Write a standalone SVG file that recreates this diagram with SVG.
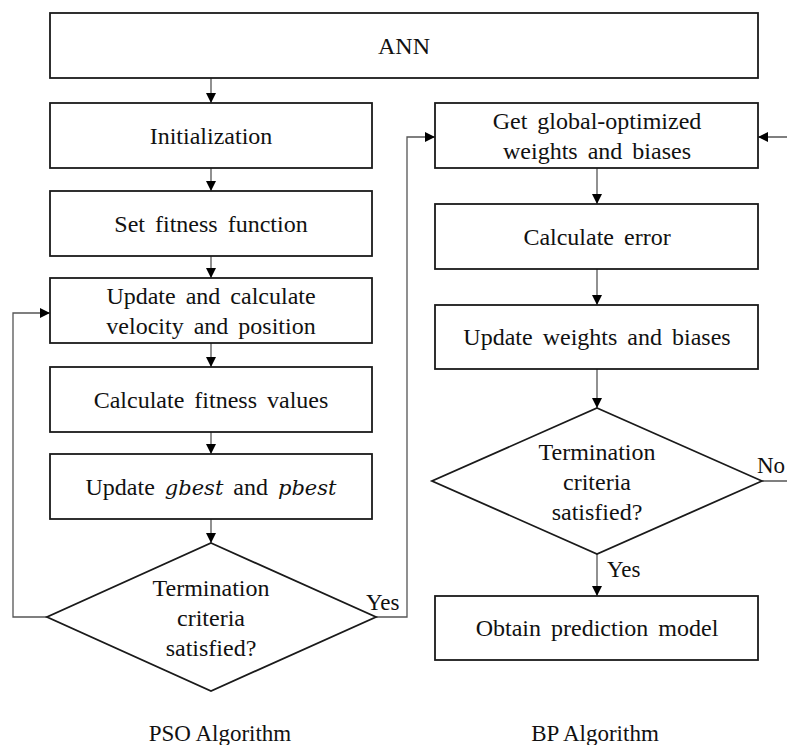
<svg xmlns="http://www.w3.org/2000/svg" width="787" height="745" viewBox="0 0 787 745" font-family="'Liberation Serif', serif">
<defs>
<marker id="ah" viewBox="0 0 10 10" refX="10" refY="5" markerWidth="10" markerHeight="10" markerUnits="userSpaceOnUse" orient="auto">
<path d="M0,0 L10,5 L0,10 Z" fill="#000"/>
</marker>
</defs>
<style>
.box{fill:#fff;stroke:#1a1a1a;stroke-width:1.8}
.t{font-family:'Liberation Serif',serif;font-size:24px;fill:#111;text-anchor:middle;word-spacing:4px}
.i{font-style:italic;font-family:'DejaVu Serif','Liberation Serif',serif;font-size:21px}
.c{fill:none;stroke:#555;stroke-width:1.3}
.lbl{font-family:'Liberation Serif',serif;font-size:23px;fill:#111}
</style>
<rect width="787" height="745" fill="#fff"/>
<g id="connectors">
<path class="c" d="M211,78 V103" marker-end="url(#ah)"/>
<path class="c" d="M211,168 V191" marker-end="url(#ah)"/>
<path class="c" d="M211,256 V278" marker-end="url(#ah)"/>
<path class="c" d="M211,343 V367" marker-end="url(#ah)"/>
<path class="c" d="M211,432 V454" marker-end="url(#ah)"/>
<path class="c" d="M211,519 V543" marker-end="url(#ah)"/>
<path class="c" d="M47,617 H13 V313 H50" marker-end="url(#ah)"/>
<path class="c" d="M376,617 H407 V137 H435" marker-end="url(#ah)"/>
<path class="c" d="M597,168 V204" marker-end="url(#ah)"/>
<path class="c" d="M597,269 V305" marker-end="url(#ah)"/>
<path class="c" d="M597,369 V408" marker-end="url(#ah)"/>
<path class="c" d="M597,554 V596" marker-end="url(#ah)"/>
<path class="c" d="M762,481 H800 V137 H758" marker-end="url(#ah)"/>
<text class="lbl" x="366" y="610">Yes</text>
<text class="lbl" x="607" y="577">Yes</text>
<text class="lbl" x="757" y="473">No</text>
</g>
<g id="ann">
<rect class="box" x="50" y="13" width="708" height="65"/>
<text class="t" x="404" y="54">ANN</text>
</g>
<g id="init">
<rect class="box" x="50" y="103" width="322" height="65"/>
<text class="t" x="211" y="144">Initialization</text>
</g>
<g id="fitness-fn">
<rect class="box" x="50" y="191" width="322" height="65"/>
<text class="t" x="211" y="232">Set fitness function</text>
</g>
<g id="update-vel">
<rect class="box" x="50" y="278" width="322" height="65"/>
<text class="t" x="211" y="304">Update and calculate</text>
<text class="t" x="211" y="334">velocity and position</text>
</g>
<g id="calc-fit">
<rect class="box" x="50" y="367" width="322" height="65"/>
<text class="t" x="211" y="408">Calculate fitness values</text>
</g>
<g id="update-best">
<rect class="box" x="50" y="454" width="322" height="65"/>
<text class="t" x="211" y="495">Update <tspan class="i">gbest</tspan> and <tspan class="i">pbest</tspan></text>
</g>
<g id="pso-term">
<polygon class="box" points="211,543 376,617 211,691 47,617"/>
<text class="t" x="211" y="596">Termination</text>
<text class="t" x="211" y="626">criteria</text>
<text class="t" x="211" y="656">satisfied?</text>
</g>
<g id="get-global">
<rect class="box" x="435" y="103" width="323" height="65"/>
<text class="t" x="597" y="129">Get global-optimized</text>
<text class="t" x="597" y="159">weights and biases</text>
</g>
<g id="calc-err">
<rect class="box" x="435" y="204" width="323" height="65"/>
<text class="t" x="597" y="245">Calculate error</text>
</g>
<g id="update-wb">
<rect class="box" x="435" y="305" width="323" height="64"/>
<text class="t" x="597" y="345">Update weights and biases</text>
</g>
<g id="bp-term">
<polygon class="box" points="597,408 762,481 597,554 432,481"/>
<text class="t" x="597" y="460">Termination</text>
<text class="t" x="597" y="490">criteria</text>
<text class="t" x="597" y="520">satisfied?</text>
</g>
<g id="obtain">
<rect class="box" x="435" y="596" width="323" height="64"/>
<text class="t" x="597" y="636">Obtain prediction model</text>
</g>
<g id="titles">
<text class="lbl" x="220" y="741" text-anchor="middle">PSO Algorithm</text>
<text class="lbl" x="595" y="741" text-anchor="middle">BP Algorithm</text>
</g>
</svg>
